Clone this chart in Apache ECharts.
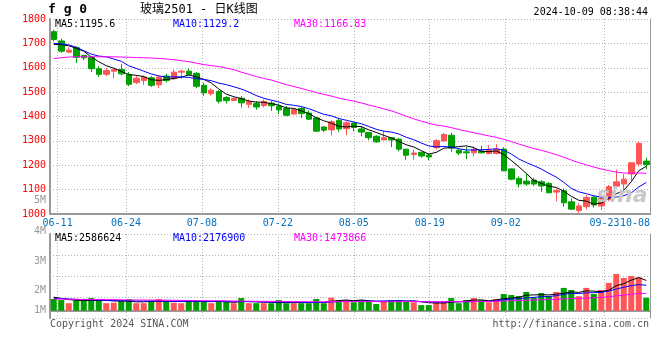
<!DOCTYPE html>
<html><head><meta charset="utf-8">
<script src="https://cdn.jsdelivr.net/npm/echarts@6.0.0/dist/echarts.min.js"></script>
<style>html,body{margin:0;padding:0;background:#fff}#c{width:660px;height:360px}</style>
</head><body><div id="c"></div>
<script>
// ---------------- data ----------------
const dates = [
 '06-07','06-11','06-12','06-13','06-14','06-17','06-18','06-19','06-20','06-21',
 '06-24','06-25','06-26','06-27','06-28','07-01','07-02','07-03','07-04','07-05',
 '07-08','07-09','07-10','07-11','07-12','07-15','07-16','07-17','07-18','07-19',
 '07-22','07-23','07-24','07-25','07-26','07-29','07-30','07-31','08-01','08-02',
 '08-05','08-06','08-07','08-08','08-09','08-12','08-13','08-14','08-15','08-16',
 '08-19','08-20','08-21','08-22','08-23','08-26','08-27','08-28','08-29','08-30',
 '09-02','09-03','09-04','09-05','09-06','09-09','09-10','09-11','09-12','09-13',
 '09-18','09-19','09-20','09-23','09-24','09-25','09-26','09-27','09-30','10-08'];
const opens = [
 1748,1710,1664,1682,1650,1643,1596,1573,1586,1593,
 1571,1539,1548,1559,1530,1566,1555,1582,1586,1577,
 1528,1494,1503,1478,1466,1475,1450,1453,1445,1455,
 1442,1433,1410,1433,1414,1394,1357,1345,1384,1350,
 1373,1349,1334,1319,1304,1313,1307,1266,1244,1253,
 1242,1272,1300,1323,1262,1255,1251,1258,1248,1248,
 1266,1185,1146,1135,1139,1132,1125,1090,1095,1050,
 1014,1030,1069,1033,1060,1114,1123,1164,1205,1217];
const closes = [
 1716,1668,1672,1643,1641,1596,1573,1589,1592,1575,
 1532,1557,1562,1528,1562,1548,1582,1586,1573,1524,
 1497,1508,1463,1465,1474,1456,1461,1439,1462,1444,
 1427,1405,1428,1412,1389,1340,1344,1378,1349,1374,
 1355,1336,1313,1296,1313,1304,1266,1241,1250,1238,
 1234,1301,1326,1270,1250,1251,1265,1251,1262,1266,
 1177,1143,1123,1123,1123,1115,1087,1096,1046,1020,
 1033,1068,1037,1064,1112,1132,1143,1210,1290,1203];
const lows = [
 1708,1661,1660,1619,1631,1583,1562,1566,1557,1569,
 1525,1532,1530,1521,1517,1539,1550,1555,1569,1516,
 1485,1485,1454,1453,1464,1437,1435,1428,1437,1423,
 1410,1401,1409,1394,1385,1337,1337,1323,1337,1323,
 1339,1319,1303,1292,1303,1275,1258,1222,1223,1231,
 1221,1265,1296,1255,1241,1225,1237,1248,1245,1245,
 1177,1139,1109,1115,1115,1091,1085,1052,1030,1016,
 1003,1019,1027,1016,1052,1103,1090,1137,1195,1184];
const highs = [
 1756,1719,1684,1688,1654,1645,1607,1598,1598,1616,
 1582,1569,1569,1566,1569,1575,1593,1593,1598,1582,
 1538,1516,1508,1483,1480,1483,1470,1463,1470,1463,
 1453,1443,1435,1439,1425,1399,1361,1385,1392,1380,
 1375,1360,1337,1323,1342,1313,1312,1266,1264,1255,
 1248,1307,1333,1333,1266,1275,1278,1280,1282,1286,
 1274,1187,1155,1164,1148,1139,1132,1105,1105,1064,
 1044,1078,1075,1074,1119,1182,1163,1210,1296,1231];
const ma5 = [
 1696,1695,1690,1680,1668,1644,1625,1608.4,1598.2,1585,
 1572.2,1569,1563.6,1550.8,1548.2,1551.4,1556.4,1561.2,1570.2,1562.6,
 1552.4,1537.6,1513,1491.4,1481.4,1473.2,1463.8,1459,1458.4,1452.4,
 1446.6,1435.4,1433.2,1423.2,1412.2,1394.8,1382.6,1372.6,1360,1357,
 1360,1358.4,1345.4,1334.8,1322.6,1312.4,1298.4,1284,1274.8,1259.8,
 1245.8,1252.8,1269.8,1273.8,1276.2,1279.6,1272.4,1257.4,1255.8,1259,
 1244.2,1219.8,1194.2,1166.4,1137.8,1125.4,1114.2,1108.8,1093.4,1072.8,
 1056.4,1052.6,1040.8,1044.4,1062.8,1082.6,1097.6,1132.2,1177.4,1195.6];
const ma10 = [
 1700,1698,1694,1684,1670,1656,1648,1645,1636,1626.5,
 1608.1,1597,1586,1574.5,1566.6,1561.8,1562.7,1562.4,1560.5,1555.4,
 1551.9,1547,1537.1,1530.8,1522,1512.8,1500.7,1486,1474.9,1466.9,
 1459.9,1449.6,1446.1,1440.8,1432.3,1420.7,1409,1402.9,1391.6,1384.6,
 1377.4,1370.5,1359,1347.4,1339.8,1336.2,1328.4,1314.7,1304.8,1291.2,
 1279.1,1275.6,1276.9,1274.3,1268,1262.7,1262.6,1263.6,1264.8,1267.6,
 1261.9,1246.1,1225.8,1211.1,1198.4,1184.8,1167,1151.5,1129.9,1105.3,
 1090.9,1083.4,1074.8,1068.9,1067.8,1069.5,1075.1,1086.5,1110.9,1129.2];
const ma30 = [
 1638,1641,1644,1645,1645,1645,1645,1645,1645,1644,
 1643,1642,1641,1640,1638,1636,1633,1629,1625,1619,
 1613,1609,1605,1599,1592,1582,1573,1564,1556,1549.6,
 1540,1531.2,1523.1,1515.4,1507,1498.4,1490.8,1483.8,1475.7,1469,
 1463.1,1455.7,1447.4,1439.7,1431.4,1423.2,1412.7,1401.2,1390.4,1380.9,
 1372.1,1365.2,1360.7,1354.2,1346.7,1339.9,1333.3,1327.1,1320.4,1314.5,
 1306.1,1297.4,1287.2,1277.6,1268.7,1261.2,1252.7,1243.3,1233.2,1221.4,
 1210.6,1201.7,1192.5,1184.8,1178.1,1172.3,1168.2,1167.2,1168.5,1166.8];
// volume, in millions
const volumes = [
 1.00,0.91,0.64,0.91,0.86,1.08,0.91,0.64,0.68,0.86,
 0.98,0.64,0.64,0.86,1.00,0.86,0.68,0.64,0.91,0.91,
 0.77,0.64,0.77,0.77,0.64,1.08,0.64,0.64,0.64,0.64,
 0.91,0.64,0.64,0.64,0.64,1.00,0.64,1.11,0.91,0.91,
 0.72,0.91,0.83,0.57,0.83,0.91,0.91,0.83,0.72,0.48,
 0.48,0.77,0.83,1.08,0.64,0.91,1.08,0.91,0.72,1.00,
 1.43,1.34,1.25,1.60,1.14,1.51,1.24,1.60,1.95,1.77,
 1.24,1.95,1.43,1.77,2.38,3.14,2.80,2.97,2.85,1.11];
const volMa5 = [
 1.15,1.05,0.95,0.90,0.864,0.88,0.88,0.88,0.834,0.834,
 0.814,0.76,0.76,0.796,0.824,0.80,0.808,0.808,0.818,0.80,
 0.782,0.774,0.80,0.772,0.718,0.78,0.78,0.754,0.728,0.728,
 0.694,0.694,0.694,0.694,0.694,0.712,0.712,0.806,0.86,0.914,
 0.858,0.912,0.856,0.788,0.772,0.81,0.81,0.81,0.84,0.77,
 0.684,0.656,0.656,0.728,0.76,0.846,0.908,0.924,0.852,0.924,
 1.028,1.08,1.148,1.324,1.352,1.368,1.348,1.418,1.488,1.614,
 1.56,1.702,1.668,1.632,1.754,2.134,2.304,2.612,2.828,2.587];
const volMa10 = [
 1.06,1.04,1.0,0.97,0.95,0.93,0.9,0.88,0.86,0.849,
 0.847,0.82,0.82,0.815,0.829,0.807,0.784,0.784,0.807,0.812,
 0.791,0.791,0.804,0.795,0.759,0.781,0.777,0.777,0.75,0.723,
 0.737,0.737,0.724,0.711,0.711,0.703,0.703,0.75,0.777,0.804,
 0.785,0.812,0.831,0.824,0.843,0.834,0.861,0.833,0.814,0.771,
 0.747,0.733,0.733,0.784,0.765,0.765,0.782,0.79,0.79,0.842,
 0.937,0.994,1.036,1.088,1.138,1.198,1.214,1.283,1.406,1.483,
 1.464,1.525,1.543,1.56,1.684,1.847,2.003,2.14,2.23,2.177];
const volMa30 = [
 1.0,0.99,0.98,0.97,0.97,0.96,0.96,0.95,0.95,0.93,
 0.92,0.92,0.91,0.91,0.90,0.90,0.89,0.88,0.87,0.86,
 0.86,0.85,0.85,0.84,0.83,0.82,0.81,0.80,0.80,0.795,
 0.792,0.783,0.783,0.774,0.766,0.764,0.755,0.770,0.778,0.780,
 0.771,0.780,0.786,0.777,0.771,0.773,0.780,0.787,0.780,0.766,
 0.756,0.761,0.763,0.773,0.773,0.767,0.782,0.791,0.794,0.806,
 0.823,0.846,0.867,0.899,0.915,0.932,0.952,0.969,1.003,1.032,
 1.049,1.084,1.104,1.144,1.196,1.27,1.333,1.404,1.475,1.474];
const xTickLabels = ['06-11','06-24','07-08','07-22','08-05','08-19','09-02','09-23','10-08'];
const volTickLabels = ['5M','4M','3M','2M','1M'];
const priceLegend = ['MA5:1195.6','MA10:1129.2','MA30:1166.83'];
const volLegend = ['MA5:2586624','MA10:2176900','MA30:1473866'];
const titleText = '玻璃2501 - 日K线图';
const codeText = 'f g 0';
const timeText = '2024-10-09 08:38:44';

// ---------------- chart ----------------
const UP = '#ff5555', DOWN = '#00a000';
const MONO = '"DejaVu Sans Mono", "Liberation Mono", monospace';
const GRID_C = '#b4b4b4', AXIS_C = '#999';
const dotted = {type:[1,2], color:GRID_C, width:1};
const showTick = (i, v) => xTickLabels.indexOf(v) >= 0;

const candleData = opens.map((o, i) => [o, closes[i], lows[i], highs[i]]);
const volData = volumes.map((v, i) => ({value: v, itemStyle: {color: closes[i] >= opens[i] ? UP : DOWN}}));

function txt(x, y, text, fill, opt) {
  opt = opt || {};
  return {type:'text', x: x, y: y, silent:true, z: 100,
    style:{text: text, fill: fill, font: opt.font || ('10px ' + MONO),
      textAlign: opt.align || 'left', textVerticalAlign: 'middle',
      align: opt.align || 'left', verticalAlign: 'middle', opacity: opt.opacity == null ? 1 : opt.opacity}};
}
const legendColors = ['#000000', '#0000ff', '#ff00ff'];
const legendX = [55, 173, 294];
const volLabelY = [200, 231, 261, 290.5, 310];
const graphics = [
  txt(48, 10, codeText, '#000', {font: 'bold 13px ' + MONO}),
  txt(140, 10, titleText, '#000', {font: '12px "DejaVu Sans Mono", "Noto Sans CJK SC", monospace'}),
  txt(648, 12, timeText, '#000', {align: 'right'}),
  txt(50, 324, 'Copyright 2024 SINA.COM', '#555'),
  txt(649, 324, 'http://finance.sina.com.cn', '#555', {align: 'right'}),
  txt(622, 196, 'sina', '#c8c8c8', {font: 'italic bold 22px "DejaVu Sans", sans-serif', align: 'center'})
];
priceLegend.forEach((t, i) => graphics.push(txt(legendX[i], 24, t, legendColors[i])));
volLegend.forEach((t, i) => graphics.push(txt(legendX[i], 238.5, t, legendColors[i])));
volTickLabels.forEach((t, i) => graphics.push(txt(46, volLabelY[i], t, '#999', {align: 'right'})));

const hiddenAxisParts = {axisLine:{show:false}, axisTick:{show:false}, axisLabel:{show:false}, splitLine:{show:false}};
const lineSeries = (name, data, color, xi, yi) => ({
  name: name, type:'line', data: data, xAxisIndex: xi, yAxisIndex: yi,
  symbol:'none', lineStyle:{color: color, width:1}, itemStyle:{color: color}, z: 5, silent: true
});

const option = {
  animation: false,
  backgroundColor: '#fff',
  grid: [
    {left:50, top:19, width:600, height:195, show:false},
    {left:50, top:234, width:600, height:84, show:false}
  ],
  xAxis: [
    {type:'category', gridIndex:0, data:dates, boundaryGap:true,
     axisLine:{show:true, lineStyle:{color:AXIS_C, width:2}}, axisTick:{show:false},
     axisLabel:{show:false}, splitLine:{show:false}},
    {type:'category', gridIndex:0, data:dates, boundaryGap:false, position:'bottom',
     axisLine:{show:false}, axisTick:{show:false},
     axisLabel:{show:true, interval: showTick, color:'#0070c0', fontSize:10, fontFamily: MONO, margin:4, alignMaxLabel:'right'},
     splitLine:{show:true, interval: showTick, lineStyle: dotted}},
    {type:'category', gridIndex:1, data:dates, boundaryGap:true,
     axisLine:{show:true, lineStyle:{color:AXIS_C, width:2}}, axisTick:{show:false},
     axisLabel:{show:false}, splitLine:{show:false}},
    {type:'category', gridIndex:1, data:dates, boundaryGap:false, position:'bottom',
     axisLine:{show:false}, axisTick:{show:false}, axisLabel:{show:false},
     splitLine:{show:true, interval: showTick, lineStyle: dotted}}
  ],
  yAxis: [
    {type:'value', gridIndex:0, min:1000, max:1800, interval:100, position:'left',
     axisLine:{show:true, lineStyle:{color:AXIS_C, width:2}}, axisTick:{show:false},
     axisLabel:{color:'#ff0000', fontSize:10, fontFamily: MONO, margin:4, formatter: v => String(v)},
     splitLine:{show:true, lineStyle: dotted}},
    Object.assign({type:'value', gridIndex:0, min:1000, max:1800, position:'right'}, hiddenAxisParts,
     {axisLine:{show:true, lineStyle:{color:AXIS_C, width:1}}}),
    Object.assign({type:'value', gridIndex:1, min:-0.624, max:6.556, position:'left'}, hiddenAxisParts),
    {type:'value', gridIndex:1, min:0, max:4, interval:1, position:'left',
     axisLine:{show:true, lineStyle:{color:AXIS_C, width:2}}, axisTick:{show:false},
     axisLabel:{show:false}, splitLine:{show:true, lineStyle: dotted}},
    Object.assign({type:'value', gridIndex:1, min:0, max:4, position:'right'}, hiddenAxisParts,
     {axisLine:{show:true, lineStyle:{color:AXIS_C, width:1}}})
  ],
  series: [
    {name:'K', type:'candlestick', xAxisIndex:0, yAxisIndex:0, data: candleData, barWidth: 6,
     itemStyle:{color:UP, color0:DOWN, borderColor:UP, borderColor0:DOWN, borderWidth:1}, silent:true},
    lineSeries('MA5', ma5, '#000000', 0, 0),
    lineSeries('MA10', ma10, '#0000ff', 0, 0),
    lineSeries('MA30', ma30, '#ff00ff', 0, 0),
    {name:'VOL', type:'bar', xAxisIndex:2, yAxisIndex:2, data: volData, barWidth: 6, silent:true},
    lineSeries('VMA5', volMa5, '#000000', 2, 2),
    lineSeries('VMA10', volMa10, '#0000ff', 2, 2),
    lineSeries('VMA30', volMa30, '#ff00ff', 2, 2)
  ],
  graphic: graphics
};
const chart = echarts.init(document.getElementById('c'), null, {renderer:'canvas'});
chart.setOption(option);
</script>
</body></html>
